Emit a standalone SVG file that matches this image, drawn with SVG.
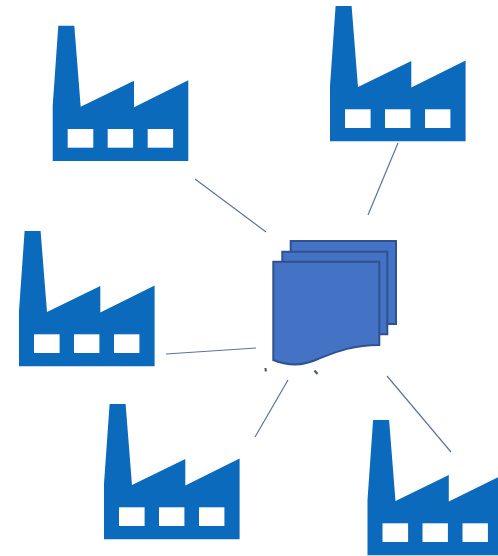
<svg xmlns="http://www.w3.org/2000/svg" width="498" height="556" viewBox="0 0 498 556">
<style>
.body{fill:#0b6abb}
.win{fill:#fff}
.doc{fill:#4472c4;stroke:#2f528f;stroke-width:2}
.conn{stroke:#5b7499;stroke-width:1.2;fill:none}
.tick{stroke:#44546a;stroke-width:2;fill:none}
</style>
<defs>
<g id="factory">
<path class="body" d="M5.6 0H21.6L28 81L81.3 55V81.6L135.6 54.6V135.3H0V80Z"/>
<rect class="win" x="15" y="103.3" width="25.6" height="18.7"/>
<rect class="win" x="55" y="103.3" width="25.4" height="18.7"/>
<rect class="win" x="95" y="103.3" width="25.4" height="18.7"/>
</g>
</defs>
<rect width="498" height="556" fill="#fff"/>
<g id="connectors">
<line class="conn" x1="195" y1="179" x2="266" y2="232"/>
<line class="conn" x1="398" y1="143" x2="368" y2="215"/>
<line class="conn" x1="166" y1="354" x2="256" y2="348"/>
<line class="conn" x1="288" y1="380" x2="255" y2="437"/>
<line class="conn" x1="387" y1="376" x2="451" y2="452"/>
<line class="tick" x1="265.5" y1="368" x2="265.8" y2="371.500"/>
<line class="tick" x1="314.500" y1="370.500" x2="317.500" y2="374"/>
</g>
<g id="factory-top-left"><use href="#factory" x="52.700" y="25.700"/></g>
<g id="factory-top-right"><use href="#factory" x="330" y="6"/></g>
<g id="factory-left"><use href="#factory" x="19" y="231"/></g>
<g id="factory-bottom"><use href="#factory" x="104" y="404"/></g>
<g id="factory-bottom-right"><use href="#factory" x="367.500" y="420"/></g>
<g id="documents">
<path class="doc" d="M290.700 241H396V324H290.700Z"/>
<path class="doc" d="M282.300 251.700H387.300V334.300H282.300Z"/>
<path class="doc" d="M273.300 261.700H379.300V345C352 345 336 352 318 359C303 366 288 366 273.300 360Z"/>
</g>
</svg>
